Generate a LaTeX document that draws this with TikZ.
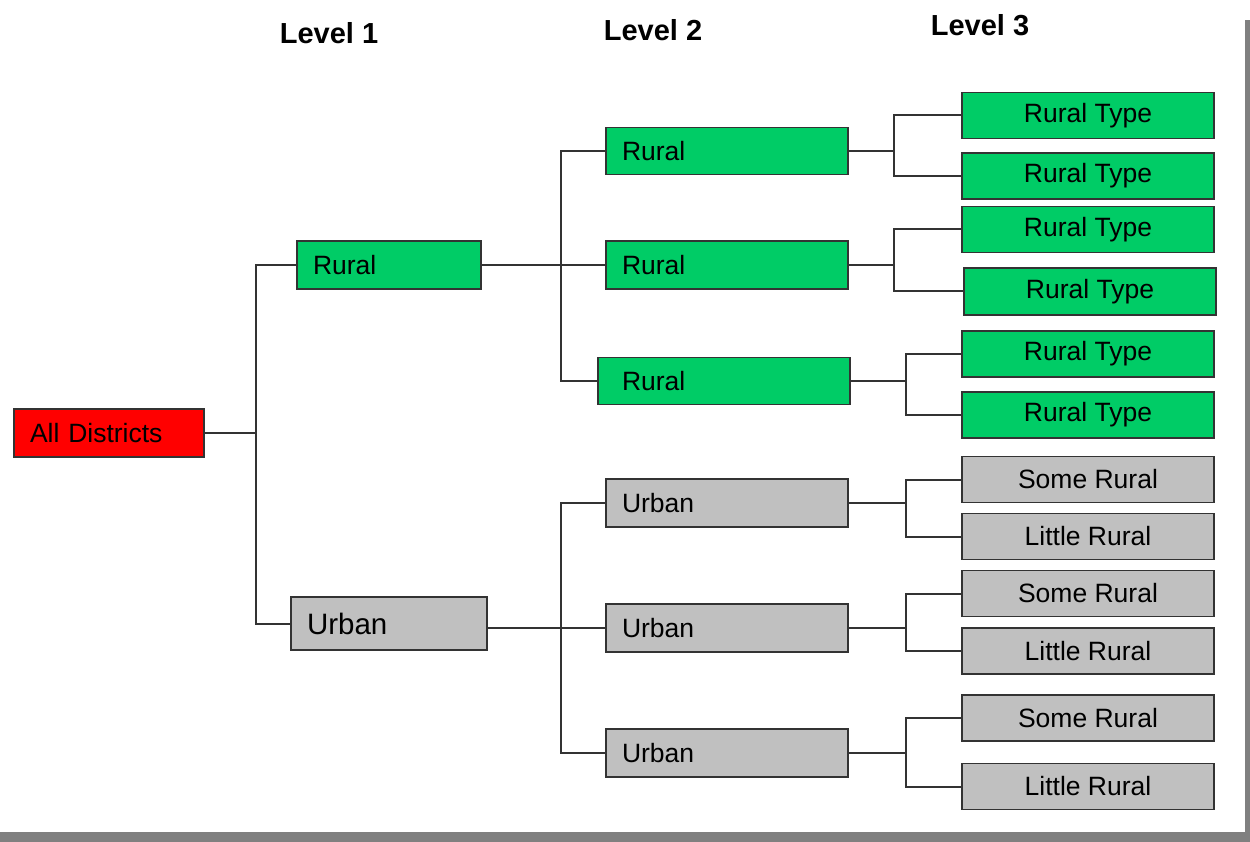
\documentclass[tikz,border=0pt]{standalone}
\usepackage{fontspec}
\setmainfont{Liberation Sans}
\usetikzlibrary{positioning}
\definecolor{districtred}{RGB}{255,0,0}
\definecolor{ruralgreen}{RGB}{0,204,102}
\definecolor{urbangrey}{RGB}{192,192,192}
\definecolor{edgegrey}{RGB}{51,51,51}
\definecolor{shadowgrey}{RGB}{128,128,128}

\begin{document}
\begin{tikzpicture}[x=1pt, y=-1pt,
  every node/.style={font=\fontsize{26.5}{30}\selectfont},
  box/.style={draw=edgegrey, line width=1.8pt, inner sep=0pt, minimum height=47},
  leftbox/.style={box, inner xsep=16pt, text width=#1, align=left},
  typebox/.style={box, minimum width=252, minimum height=46},
  wire/.style={draw=edgegrey, line width=2pt},
  levelhead/.style={font=\bfseries\fontsize{29}{32}\selectfont}]
\useasboundingbox (0,0) rectangle (1250,842);
\fill[white] (0,0) rectangle (1245,832);
\fill[shadowgrey] (1245,20) rectangle (1250,842);
\fill[shadowgrey] (0,832) rectangle (1250,842);

% column heads
\node[levelhead] (head1) at (329,33) {Level 1};
\node[levelhead] (head2) at (653,30) {Level 2};
\node[levelhead] (head3) at (980,25) {Level 3};

% root and level 1
\node[leftbox=158pt, fill=districtred, minimum height=48] (dist) at (109,433) {All Districts};
\node[leftbox=152pt, fill=ruralgreen, minimum height=48] (r1) at (389,265) {Rural};
\node[leftbox=164pt, fill=urbangrey, minimum height=53, font=\fontsize{29.5}{33}\selectfont] (u1) at (389,623.5) {Urban};

% level 2
\node[leftbox=210pt, fill=ruralgreen] (r21) at (727,151) {Rural};
\node[leftbox=210pt, fill=ruralgreen, minimum height=48] (r22) at (727,265) {Rural};
\node[leftbox=204pt, inner xsep=24pt, fill=ruralgreen] (r23) at (724,381) {Rural};
\node[leftbox=210pt, fill=urbangrey, minimum height=48] (u21) at (727,503) {Urban};
\node[leftbox=210pt, fill=urbangrey, minimum height=48] (u22) at (727,628) {Urban};
\node[leftbox=210pt, fill=urbangrey, minimum height=48] (u23) at (727,753) {Urban};

% level 3
\foreach \n/\y in {rt1/115.5, rt2/176, rt3/229.5, rt5/354, rt6/415}
  \node[typebox, fill=ruralgreen] (\n) at (1088,\y) {Rural Type};
\node[typebox, fill=ruralgreen, minimum height=47] (rt4) at (1090,291.5) {Rural Type};
\foreach \n/\t/\y in {sr1/Some Rural/479.5, lr1/Little Rural/536.5, sr2/Some Rural/593.5,
    lr2/Little Rural/651, sr3/Some Rural/718, lr3/Little Rural/786.5}
  \node[typebox, fill=urbangrey] (\n) at (1088,\y) {\t};

% connectors
\draw[wire] (dist.east) -- ++(51,0) coordinate (j0);
\draw[wire] (r1.west) -| (j0) |- (u1.west);
\draw[wire] (r1.east) -- ++(79,0) coordinate (j1) -- (r22.west);
\draw[wire] (r21.west) -| (j1) |- (r23.west);
\path (u1.east) ++(73,0) coordinate (j2);
\draw[wire] (u22.west) -- (u22.west -| u1.east);
\draw[wire] (u21.west) -| (j2) |- (u23.west);
\foreach \p/\a/\b/\d in {r21/rt1/rt2/45, r22/rt3/rt4/45, r23/rt5/rt6/55,
    u21/sr1/lr1/57, u22/sr2/lr2/57, u23/sr3/lr3/57} {
  \draw[wire] (\p.east) -- ++(\d,0) coordinate (jj);
  \draw[wire] (\a.west) -| (jj) |- (\b.west);
}
\end{tikzpicture}
\end{document}
